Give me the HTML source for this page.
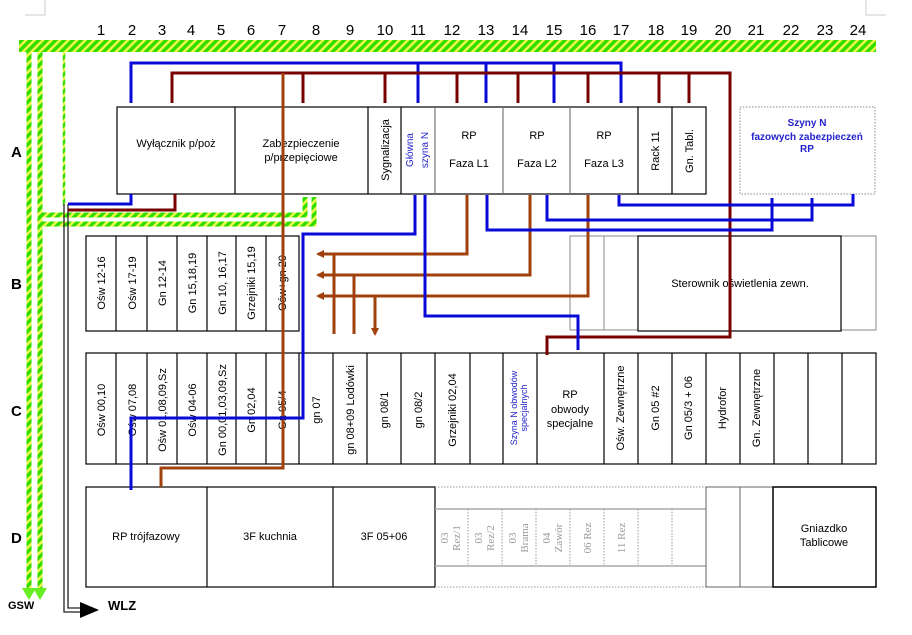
<!DOCTYPE html>
<html><head><meta charset="utf-8"><style>
html,body{margin:0;padding:0;background:#fff}
svg{display:block}
text{font-family:"Liberation Sans",sans-serif;font-size:11px;fill:#000}
</style></head><body>
<svg width="912" height="635" viewBox="0 0 912 635" xmlns="http://www.w3.org/2000/svg">
<defs>
<pattern id="g" patternUnits="userSpaceOnUse" width="6" height="6" patternTransform="rotate(45)">
<rect width="6" height="6" fill="#eef84a"/><rect width="3.5" height="6" fill="#33dd00"/>
</pattern>
<marker id="ab" markerWidth="8" markerHeight="8" refX="6" refY="4" orient="auto" markerUnits="userSpaceOnUse"><path d="M0,0 L8,4 L0,8z" fill="#a0410d"/></marker>
</defs>
<path d="M25 15 H45 V0" fill="none" stroke="#ccc" stroke-width="1"/>
<path d="M866 0 V15 H886" fill="none" stroke="#ccc" stroke-width="1"/>
<!-- numbers -->
<g text-anchor="middle">
<text x="101" y="35" style="font-size:15px">1</text><text x="132" y="35" style="font-size:15px">2</text><text x="162" y="35" style="font-size:15px">3</text><text x="191" y="35" style="font-size:15px">4</text><text x="221" y="35" style="font-size:15px">5</text><text x="251" y="35" style="font-size:15px">6</text><text x="282" y="35" style="font-size:15px">7</text><text x="316" y="35" style="font-size:15px">8</text><text x="350" y="35" style="font-size:15px">9</text><text x="385" y="35" style="font-size:15px">10</text><text x="418" y="35" style="font-size:15px">11</text><text x="452" y="35" style="font-size:15px">12</text><text x="486" y="35" style="font-size:15px">13</text><text x="520" y="35" style="font-size:15px">14</text><text x="554" y="35" style="font-size:15px">15</text><text x="588" y="35" style="font-size:15px">16</text><text x="621" y="35" style="font-size:15px">17</text><text x="656" y="35" style="font-size:15px">18</text><text x="689" y="35" style="font-size:15px">19</text><text x="723" y="35" style="font-size:15px">20</text><text x="756" y="35" style="font-size:15px">21</text><text x="791" y="35" style="font-size:15px">22</text><text x="825" y="35" style="font-size:15px">23</text><text x="858" y="35" style="font-size:15px">24</text>
</g>
<text x="11" y="157" style="font-size:15px;font-weight:bold">A</text><text x="11" y="289" style="font-size:15px;font-weight:bold">B</text><text x="11" y="416" style="font-size:15px;font-weight:bold">C</text><text x="11" y="543" style="font-size:15px;font-weight:bold">D</text>
<!-- green -->
<rect x="19" y="40" width="857" height="12" fill="url(#g)"/>
<g fill="none" stroke="url(#g)" stroke-width="5">
<path d="M29 52 V592"/><path d="M40 52 V592"/>
<path d="M40 215 H305 V197"/><path d="M40 224 H314 V197"/>
</g>
<path d="M64 52 V205" stroke="url(#g)" stroke-width="2.5" fill="none"/>
<path d="M22 588 L29 600 L36 588z M33 588 L40 600 L47 588z" fill="#66ee22"/>
<!-- WLZ double line -->
<path d="M64 204 V612 H80 M68 204 V608 H80" stroke="#222" stroke-width="1.3" fill="none"/>
<path d="M80 602 L99 610 L80 618z" fill="#000"/>
<text x="8" y="609" style="font-size:11px;font-weight:bold">GSW</text>
<text x="108" y="610" style="font-size:13px;font-weight:bold">WLZ</text>
<!-- Row A -->
<rect x="117" y="107" width="589" height="87" fill="#fff" stroke="#000" stroke-width="1.2"/>
<g stroke="#000" stroke-width="1.2"><path d="M235 107V194M368 107V194M401 107V194M638 107V194M672 107V194"/></g>
<g stroke="#777" stroke-width="1.2"><path d="M435 107V194M503 107V194M570 107V194"/></g>
<rect x="740" y="107" width="135" height="87" fill="#fff" stroke="#888" stroke-dasharray="1.5,1.5"/>
<text x="176" y="147" text-anchor="middle">Wyłącznik p/poż</text>
<text x="301" y="147" text-anchor="middle">Zabezpieczenie</text>
<text x="301" y="161" text-anchor="middle">p/przepięciowe</text>
<text transform="translate(389,150) rotate(-90)" text-anchor="middle">Sygnalizacja</text>
<text transform="translate(413,150) rotate(-90)" text-anchor="middle" style="fill:#22c;font-size:10px">Główna</text>
<text transform="translate(428,150) rotate(-90)" text-anchor="middle" style="fill:#22c;font-size:10px">szyna N</text>
<text x="469" y="139" text-anchor="middle">RP</text><text x="469" y="167" text-anchor="middle">Faza L1</text>
<text x="537" y="139" text-anchor="middle">RP</text><text x="537" y="167" text-anchor="middle">Faza L2</text>
<text x="604" y="139" text-anchor="middle">RP</text><text x="604" y="167" text-anchor="middle">Faza L3</text>
<text transform="translate(659,151) rotate(-90)" text-anchor="middle">Rack 11</text>
<text transform="translate(693,151) rotate(-90)" text-anchor="middle">Gn. Tabl.</text>
<text x="807" y="126" text-anchor="middle" style="fill:#22c;font-size:10px;font-weight:bold">Szyny N</text>
<text x="807" y="140" text-anchor="middle" style="fill:#22c;font-size:10px;font-weight:bold">fazowych zabezpieczeń</text>
<text x="807" y="152" text-anchor="middle" style="fill:#22c;font-size:10px;font-weight:bold">RP</text>
<!-- Row B -->
<rect x="86" y="236" width="213" height="95" fill="#fff" stroke="#000" stroke-width="1.2"/>
<path d="M116 236V331M147 236V331M177 236V331M207 236V331M236 236V331M266 236V331" stroke="#000" stroke-width="1.2"/>
<g text-anchor="middle">
<text transform="translate(105,283) rotate(-90)">Ośw 12-16</text>
<text transform="translate(136,283) rotate(-90)">Ośw 17-19</text>
<text transform="translate(166,283) rotate(-90)">Gn 12-14</text>
<text transform="translate(196,283) rotate(-90)">Gn 15,18,19</text>
<text transform="translate(226,283) rotate(-90)">Gn 10, 16,17</text>
<text transform="translate(255,283) rotate(-90)">Grzejniki 15,19</text>
<text transform="translate(286,283) rotate(-90)">Ośw+gn 20</text>
</g>
<rect x="570" y="236" width="306" height="94" fill="#fff" stroke="#888" stroke-width="1"/>
<path d="M604 236V330M638 236V330M841 236V330" stroke="#888"/>
<rect x="638" y="236" width="203" height="95" fill="#fff" stroke="#000" stroke-width="1.2"/>
<text x="740" y="287" text-anchor="middle">Sterownik oświetlenia zewn.</text>
<!-- Row C -->
<rect x="86" y="353" width="790" height="111" fill="#fff" stroke="#000" stroke-width="1.2"/>
<path d="M116 353V464M147 353V464M177 353V464M207 353V464M236 353V464M266 353V464M299 353V464M333 353V464M367 353V464M401 353V464M435 353V464M470 353V464M503 353V464M537 353V464M604 353V464M638 353V464M672 353V464M706 353V464M740 353V464M774 353V464M808 353V464M842 353V464" stroke="#000" stroke-width="1.2"/>
<g text-anchor="middle">
<text transform="translate(105,410) rotate(-90)">Ośw 00,10</text>
<text transform="translate(136,410) rotate(-90)">Ośw 07,08</text>
<text transform="translate(166,410) rotate(-90)">Ośw 01,08,09,Sz</text>
<text transform="translate(196,410) rotate(-90)">Ośw 04-06</text>
<text transform="translate(226,410) rotate(-90)">Gn 00,01,03,09,Sz</text>
<text transform="translate(255,410) rotate(-90)">Gn 02,04</text>
<text transform="translate(286,410) rotate(-90)">Gn 05/4</text>
<text transform="translate(320,410) rotate(-90)">gn 07</text>
<text transform="translate(354,410) rotate(-90)">gn 08+09 Lodówki</text>
<text transform="translate(388,410) rotate(-90)">gn 08/1</text>
<text transform="translate(422,410) rotate(-90)">gn 08/2</text>
<text transform="translate(456,410) rotate(-90)">Grzejniki 02,04</text>
<text transform="translate(517,408) rotate(-90)" style="fill:#22c;font-size:9px">Szyna N obwodów</text>
<text transform="translate(527,408) rotate(-90)" style="fill:#22c;font-size:9px">specjalnych</text>
<text transform="translate(624,408) rotate(-90)">Ośw. Zewnętrzne</text>
<text transform="translate(659,408) rotate(-90)">Gn 05 #2</text>
<text transform="translate(692,408) rotate(-90)">Gn 05/3 + 06</text>
<text transform="translate(726,408) rotate(-90)">Hydrofor</text>
<text transform="translate(760,408) rotate(-90)">Gn. Zewnętrzne</text>
</g>
<text x="570" y="398" text-anchor="middle">RP</text>
<text x="570" y="413" text-anchor="middle">obwody</text>
<text x="570" y="427" text-anchor="middle">specjalne</text>
<!-- Row D -->
<rect x="86" y="487" width="349" height="100" fill="#fff" stroke="#000" stroke-width="1.2"/>
<path d="M207 487V587M333 487V587" stroke="#000" stroke-width="1.2"/>
<text x="146" y="540" text-anchor="middle">RP trójfazowy</text>
<text x="270" y="540" text-anchor="middle">3F kuchnia</text>
<text x="384" y="540" text-anchor="middle">3F 05+06</text>
<path d="M435 487H706M435 587H706" stroke="#999" stroke-dasharray="1.5,1.5"/>
<path d="M435 509H706M435 566H706" stroke="#aaa" stroke-width="1.5"/>
<path d="M468 509V566M502 509V566M536 509V566M570 509V566M604 509V566M638 509V566M672 509V566" stroke="#999" stroke-dasharray="1.5,1.5"/>
<g text-anchor="middle">
<text transform="translate(448,538) rotate(-90)" style="fill:#999;font-family:'Liberation Serif',serif;font-size:11px">03</text>
<text transform="translate(460,538) rotate(-90)" style="fill:#999;font-family:'Liberation Serif',serif;font-size:11px">Rez/1</text>
<text transform="translate(482,538) rotate(-90)" style="fill:#999;font-family:'Liberation Serif',serif;font-size:11px">03</text>
<text transform="translate(494,538) rotate(-90)" style="fill:#999;font-family:'Liberation Serif',serif;font-size:11px">Rez/2</text>
<text transform="translate(516,538) rotate(-90)" style="fill:#999;font-family:'Liberation Serif',serif;font-size:11px">03</text>
<text transform="translate(528,538) rotate(-90)" style="fill:#999;font-family:'Liberation Serif',serif;font-size:11px">Brama</text>
<text transform="translate(550,538) rotate(-90)" style="fill:#999;font-family:'Liberation Serif',serif;font-size:11px">04</text>
<text transform="translate(562,538) rotate(-90)" style="fill:#999;font-family:'Liberation Serif',serif;font-size:11px">Zawór</text>
<text transform="translate(591,538) rotate(-90)" style="fill:#999;font-family:'Liberation Serif',serif;font-size:11px">06 Rez</text>
<text transform="translate(625,538) rotate(-90)" style="fill:#999;font-family:'Liberation Serif',serif;font-size:11px">11 Rez</text>
</g>
<rect x="706" y="487" width="67" height="100" fill="#fff" stroke="#666" stroke-width="1"/>
<path d="M740 487V587" stroke="#666"/>
<rect x="773" y="487" width="103" height="100" fill="#fff" stroke="#000" stroke-width="1.5"/>
<text x="824" y="532" text-anchor="middle">Gniazdko</text>
<text x="824" y="546" text-anchor="middle">Tablicowe</text>
<!-- wires -->
<g fill="none" stroke-width="3" stroke-linejoin="miter">
<path d="M131 103V63H621V103M418 63V103M486 63V103M554 63V103" stroke="#0a0ad8"/>
<path d="M172 103V73H730V337H547V355" stroke="#700"/>
<path d="M303 73V103M385 73V103M457 73V103M518 73V103M588 73V103M659 73V103M689 73V103" stroke="#700"/>
<path d="M175 194V210H68" stroke="#700"/>
<path d="M131 194V204H68" stroke="#0a0ad8"/>
<path d="M283 73V468H161V487" stroke="#a0410d"/>
<path d="M467 195V254H318" stroke="#a0410d" marker-end="url(#ab)"/>
<path d="M530 195V275H318" stroke="#a0410d" marker-end="url(#ab)"/>
<path d="M588 195V296H318" stroke="#a0410d" marker-end="url(#ab)"/>
<path d="M334 254V334M354 275V334M375 296V334" stroke="#a0410d" marker-end="url(#ab)"/>
<path d="M415 195V234H303V418H131V490" stroke="#0a0ad8"/>
<path d="M425 195V316H578V350" stroke="#0a0ad8"/>
<path d="M487 195V230H772V198" stroke="#0a0ad8"/>
<path d="M547 195V220H812V198" stroke="#0a0ad8"/>
<path d="M619 195V205H853V194" stroke="#0a0ad8"/>
</g>
</svg>
</body></html>
